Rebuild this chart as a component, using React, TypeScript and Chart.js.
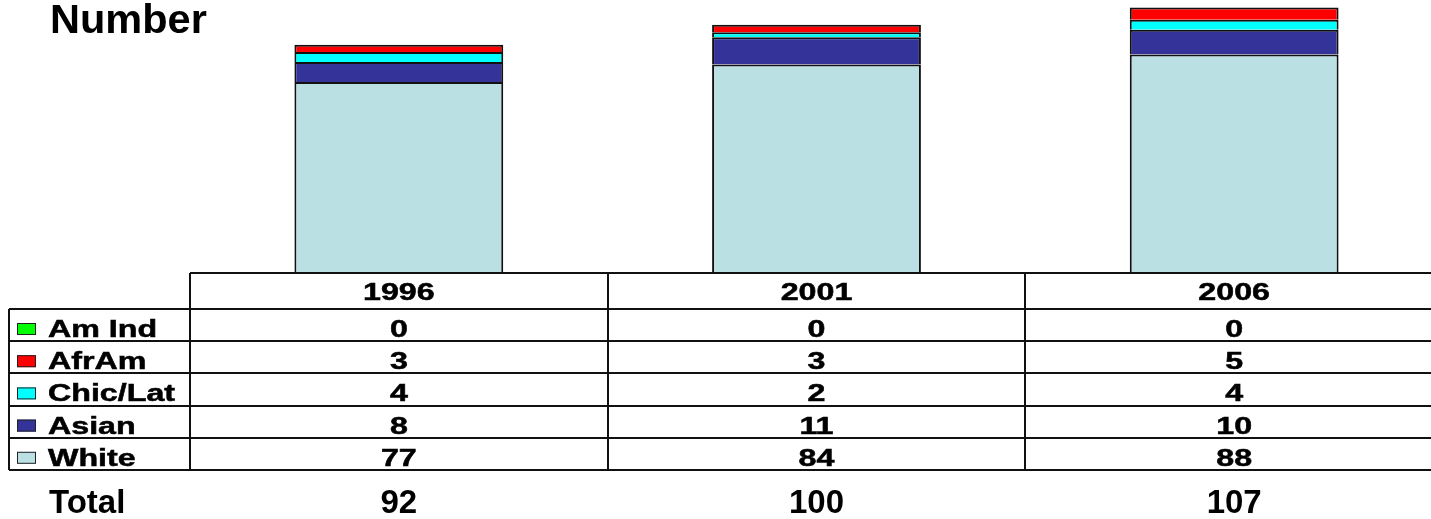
import React, { useEffect, useRef } from "react";
import { Chart, registerables } from "chart.js";

Chart.register(...registerables);

// ---- data ----
const years = ["1996", "2001", "2006"];
const seriesNames = ["Am Ind", "AfrAm", "Chic/Lat", "Asian", "White"]; // table order (top to bottom)
const amInd = [0, 0, 0];
const afrAm = [3, 3, 5];
const chicLat = [4, 2, 4];
const asian = [8, 11, 10];
const white = [77, 84, 88];
const seriesColors = ["#00FF00", "#FF0000", "#00FFFF", "#333399", "#BBE0E3"];
const titleText = "Number";
const totalLabel = "Total";

const tableValues = [amInd, afrAm, chicLat, asian, white];

const FONT = '"Liberation Sans", Arial, Helvetica, sans-serif';
const SX = 1.4;

function stretchedText(
  ctx: CanvasRenderingContext2D,
  text: string,
  x: number,
  y: number,
  align: CanvasTextAlign,
  sx: number
) {
  ctx.save();
  ctx.translate(x, y);
  ctx.scale(sx, 1);
  ctx.textAlign = align;
  ctx.textBaseline = "alphabetic";
  ctx.lineWidth = 0.5;
  ctx.strokeStyle = "#000";
  ctx.fillText(text, 0, 0);
  ctx.strokeText(text, 0, 0);
  ctx.restore();
}

const tablePlugin = {
  id: "dataTable",
  afterDraw(chart: any) {
    const ctx: CanvasRenderingContext2D = chart.ctx;
    const xs = chart.scales.x;
    const area = chart.chartArea;
    const n = years.length;
    const c0 = xs.getPixelForValue(0);
    const bin = xs.getPixelForValue(1) - c0;
    const colLeft = c0 - bin / 2;
    const tableLeft = 9;
    const top = Math.round(area.bottom);
    const headerBottom = top + 36;
    const rowH = 32.2;
    const bottom = headerBottom + rowH * seriesNames.length;
    const right = chart.width;

    ctx.save();
    // title
    ctx.fillStyle = "#000";
    ctx.font = `bold 41.5px ${FONT}`;
    ctx.textAlign = "left";
    ctx.fillText(titleText, 50, 33);

    // grid lines
    ctx.strokeStyle = "#111";
    ctx.lineWidth = 2;
    const line = (x1: number, y1: number, x2: number, y2: number) => {
      ctx.beginPath();
      ctx.moveTo(x1, y1);
      ctx.lineTo(x2, y2);
      ctx.stroke();
    };
    line(colLeft, top, right, top);
    for (let i = 0; i <= seriesNames.length; i++) {
      const y = Math.round(headerBottom + rowH * i);
      line(tableLeft, y, right, y);
    }
    line(tableLeft, headerBottom, tableLeft, Math.round(bottom));
    for (let c = 0; c <= n; c++) {
      const x = Math.round(colLeft + bin * c);
      line(x, top, x, Math.round(bottom));
    }

    // header
    ctx.fillStyle = "#000";
    ctx.font = `bold 23px ${FONT}`;
    years.forEach((yr, i) => {
      stretchedText(ctx, yr, xs.getPixelForValue(i), top + 27, "center", SX);
    });

    // rows
    seriesNames.forEach((name, r) => {
      const rowTop = headerBottom + rowH * r;
      const base = rowTop + 28;
      // swatch
      ctx.fillStyle = seriesColors[r];
      ctx.fillRect(17, rowTop + 14, 19, 12);
      ctx.strokeStyle = "#222";
      ctx.lineWidth = 1;
      ctx.strokeRect(17.5, rowTop + 14.5, 18, 11);
      ctx.fillStyle = "#000";
      ctx.font = `bold 23px ${FONT}`;
      stretchedText(ctx, name, 48, base, "left", SX);
      tableValues[r].forEach((v, i) => {
        stretchedText(ctx, String(v), xs.getPixelForValue(i), base, "center", SX);
      });
    });

    // totals
    ctx.font = `bold 33px ${FONT}`;
    ctx.fillStyle = "#000";
    ctx.textAlign = "left";
    ctx.fillText(totalLabel, 49, 513);
    ctx.textAlign = "center";
    years.forEach((_, i) => {
      const total = tableValues.reduce((s, arr) => s + arr[i], 0);
      ctx.fillText(String(total), xs.getPixelForValue(i), 513);
    });
    ctx.restore();
  },
};

export default function App() {
  const ref = useRef<HTMLCanvasElement | null>(null);

  useEffect(() => {
    if (!ref.current) return;
    // stack order bottom to top: White, Asian, Chic/Lat, AfrAm, Am Ind
    const order = [4, 3, 2, 1, 0];
    const chart = new Chart(ref.current, {
      type: "bar",
      data: {
        labels: years,
        datasets: order.map((idx) => ({
          label: seriesNames[idx],
          data: tableValues[idx],
          backgroundColor: seriesColors[idx],
          borderColor: "#111",
          borderWidth: 2,
          borderSkipped: "start" as const,
          categoryPercentage: 1,
          barPercentage: 0.5,
        })),
      },
      options: {
        responsive: false,
        maintainAspectRatio: false,
        animation: false,
        layout: { padding: { left: 190, right: 0, top: 0, bottom: 246 } },
        plugins: {
          legend: { display: false },
          tooltip: { enabled: false },
          title: { display: false },
        },
        scales: {
          x: { display: false, stacked: true, offset: true, grid: { display: false } },
          y: { display: false, stacked: true, min: 0, max: 110, grid: { display: false } },
        },
      },
      plugins: [tablePlugin],
    });
    return () => chart.destroy();
  }, []);

  return (
    <div
      style={{
        position: "fixed",
        left: 0,
        top: 0,
        width: 1431,
        height: 519,
        overflow: "hidden",
        background: "#fff",
      }}
    >
      <canvas ref={ref} width={1443} height={519} style={{ width: 1443, height: 519, display: "block" }} />
    </div>
  );
}
